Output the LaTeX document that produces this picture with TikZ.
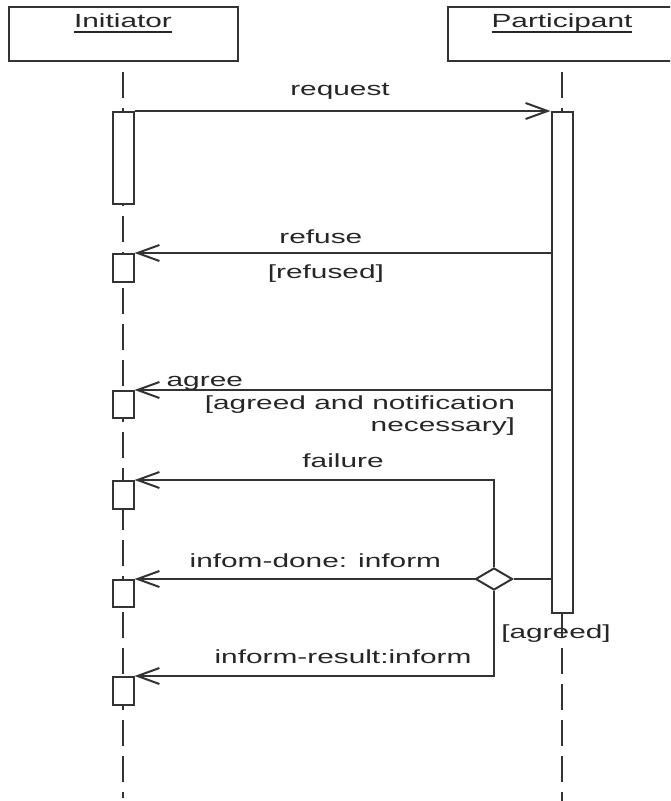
\documentclass[tikz,border=0pt]{standalone}
\usepackage{fontspec}
\newfontfamily\umlfont[FakeStretch=1.57]{Liberation Sans}
\usetikzlibrary{arrows.meta, positioning, shapes.geometric}
\newcommand{\actorname}[1]{\setbox0=\hbox{#1}\rlap{\rule[-4.75pt]{\wd0}{1.5pt}}\box0}
\tikzset{
  umlline/.style    = {draw=black!80, line width=2pt},
  actor/.style      = {umlline, rectangle, fill=white, inner sep=0pt,
                       minimum width=229pt, minimum height=54pt},
  actorlabel/.style = {font=\umlfont\fontsize{19}{22}\selectfont, text=black!85,
                       inner sep=0pt, anchor=north, yshift=-8pt},
  lifeline/.style   = {umlline, dash pattern=on 26pt off 10pt, dash phase=26pt},
  activation/.style = {umlline, rectangle, fill=white, inner sep=0pt,
                       minimum width=21pt, anchor=north},
  choice/.style     = {umlline, diamond, fill=white, inner sep=0pt,
                       minimum width=37pt, minimum height=22pt},
  msg/.style        = {umlline, -{Straight Barb[length=22pt, width=16pt]}},
  plain/.style      = {umlline},
  msglabel/.style   = {font=\umlfont\fontsize{19}{22}\selectfont, text=black!85,
                       inner sep=0pt, anchor=base},
  guardlabel/.style = {msglabel, align=right, anchor=north east},
}

\begin{document}
\begin{tikzpicture}[x=1pt, y=-1pt]
\path[use as bounding box, clip] (0,0) rectangle (670,801);

% ===== actors and lifelines =====
\node[actor, label={[actorlabel]north:\actorname{Initiator}}] (init) at (123,34) {};
\node[actor, label={[actorlabel]north:\actorname{Participant}}] (part) at (562,34) {};
\coordinate (initend) at (123,798);
\coordinate (partend) at (562,805);
\draw[lifeline] (init.south) -- (initend);
\draw[lifeline] (part.south) -- (partend);

% ===== activation bars =====
\node[activation, minimum height=92pt]  (i1) at (123,111) {};
\node[activation, minimum height=28pt]  (i2) at (123,253) {};
\node[activation, minimum height=27pt]  (i3) at (123,390) {};
\node[activation, minimum height=28pt]  (i4) at (123,480) {};
\node[activation, minimum height=27pt]  (i5) at (123,579) {};
\node[activation, minimum height=28pt]  (i6) at (123,676) {};
\node[activation, minimum height=501pt] (pbar) at (562,111) {};

\node[choice] (dmd) at (494,579) {};

% ===== messages =====
\draw[msg] (i1.north east) --
  node[msglabel, pos=0.494, yshift=16pt] (lrequest) {request} (pbar.north west);

\draw[msg] (pbar.west |- i2.north) --
  node[msglabel, pos=0.552, yshift=10pt] (lrefuse) {refuse}
  node[msglabel, pos=0.54, yshift=-25pt] (lrefused) {[refused]} (i2.north east);

\draw[msg] (pbar.west |- i3.north) --
  node[msglabel, pos=0.831, yshift=4pt] (lagree) {agree}
  node[guardlabel, pos=0.083, yshift=-5pt] (lagreedguard)
    {[agreed and notification\\necessary]} (i3.north east);

\draw[msg] (dmd.north) |-
  node[msglabel, pos=0.71, yshift=13pt] (lfailure) {failure} (i4.north east);

\draw[plain] (pbar.west |- dmd.east) -- (dmd.east);
\draw[msg] (dmd.west) --
  node[msglabel, pos=0.468, yshift=12pt] (linformdone) {infom-done: inform} (i5.north east);

\draw[msg] (dmd.south) |-
  node[msglabel, pos=0.71, yshift=13pt] (linformresult) {inform-result:inform} (i6.north east);

\node[msglabel] (lagreed) at ([xshift=-6pt, yshift=-24pt]pbar.south) {[agreed]};

\end{tikzpicture}
\end{document}
